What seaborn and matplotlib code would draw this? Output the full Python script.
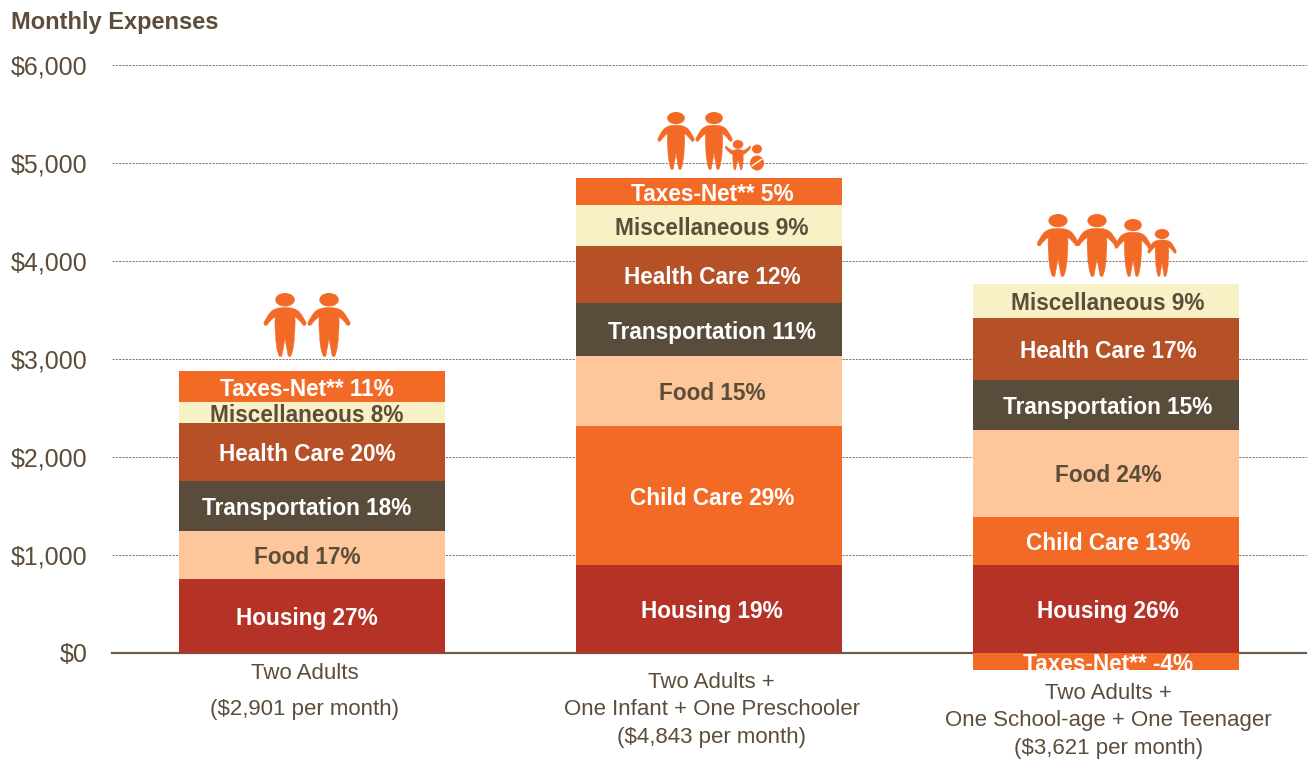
import numpy as np
import pandas as pd
import matplotlib
matplotlib.use("Agg")
import matplotlib.pyplot as plt
import seaborn as sns
from matplotlib.path import Path
from matplotlib.patches import PathPatch, Ellipse
from matplotlib.lines import Line2D
from matplotlib.transforms import Affine2D, IdentityTransform, ScaledTranslation

# ---------- data ----------
families = [
    "Two Adults\n($2,901 per month)",
    "Two Adults +\nOne Infant + One Preschooler\n($4,843 per month)",
    "Two Adults +\nOne School-age + One Teenager\n($3,621 per month)",
]
housing = [755, 898, 898]
child_care = [0, 1418, 490]
food = [490, 714, 888]
transportation = [510, 541, 510]
health_care = [592, 582, 633]
miscellaneous = [214, 418, 347]
taxes_net = [316, 276, -174]

housing_pct = [27, 19, 26]
child_care_pct = [None, 29, 13]
food_pct = [17, 15, 24]
transportation_pct = [18, 11, 15]
health_care_pct = [20, 12, 17]
miscellaneous_pct = [8, 9, 9]
taxes_net_pct = [11, 5, -4]

y_ticks = [0, 1000, 2000, 3000, 4000, 5000, 6000]

# ---------- style ----------
W, H = 1307, 761
BROWN = "#5C4D3A"
WHITE = "white"
sns.set_theme(style="white")
plt.rcParams["font.family"] = ["Liberation Sans", "DejaVu Sans"]

segments = [
    ("Housing", housing, housing_pct, "#B53326", WHITE),
    ("Child Care", child_care, child_care_pct, "#F26A26", WHITE),
    ("Food", food, food_pct, "#FDC79B", BROWN),
    ("Transportation", transportation, transportation_pct, "#5A4C3A", WHITE),
    ("Health Care", health_care, health_care_pct, "#B55027", WHITE),
    ("Miscellaneous", miscellaneous, miscellaneous_pct, "#F8F1C5", BROWN),
    ("Taxes-Net**", taxes_net, taxes_net_pct, "#F26A26", WHITE),
]

fig = plt.figure(figsize=(W / 100, H / 100), dpi=100, facecolor="white")
ax = fig.add_axes([112 / W, (H - 653) / H, (W - 112) / W, (653 - 65) / H])

# ---------- stacked bars ----------
label_shift = [-4.5 / 397, 3.5 / 397, 2.5 / 397]
bottom = np.zeros(3)
for name, vals, pcts, color, tcolor in segments:
    vals = np.array(vals, dtype=float)
    base = np.where(vals < 0, 0, bottom)
    df = pd.DataFrame({"family": families, "value": vals})
    sns.barplot(data=df, x="family", y="value", order=families, color=color,
                saturation=1, width=0.67, bottom=base, ax=ax, zorder=3,
                clip_on=False, linewidth=0, errorbar=None)
    for i, (v, b, p) in enumerate(zip(vals, base, pcts)):
        if p is None:
            continue
        ax.text(i + label_shift[i], b + v / 2, f"{name} {p}%", ha="center", va="center_baseline",
                color=tcolor, fontsize=16.3, fontweight="bold", zorder=4, clip_on=False)
    bottom = bottom + np.where(vals > 0, vals, 0)

# ---------- axes ----------
ax.set_xlim(-0.5025, 2.507)
ax.set_ylim(0, 6000)
ax.set_xlabel("")
ax.set_ylabel("")
ax.set_yticks(y_ticks, [f"${v:,}" for v in y_ticks])
ax.tick_params(axis="y", length=0, pad=17.5, labelsize=18, labelcolor=BROWN)
ax.tick_params(axis="x", length=0, pad=0, labelsize=16, labelcolor=BROWN)
ax.grid(axis="y", color="#6B5D4B", lw=0.6, ls=(0, (2.5, 1.5)), zorder=1)
ax.grid(axis="x", visible=False)
ax.set_axisbelow(True)
for s in ["top", "left", "right"]:
    ax.spines[s].set_visible(False)
ax.spines["bottom"].set_color("#6B5D4B")
ax.spines["bottom"].set_linewidth(1.6)
ax.spines["bottom"].set_zorder(2)

x_offsets = [(-7, -10), (3, -19), (3, -30)]
line_sp = [1.95, 1.4, 1.4]
for lab, (dx, dy), ls in zip(ax.get_xticklabels(), x_offsets, line_sp):
    lab.set_linespacing(ls)
    lab.set_transform(lab.get_transform() + ScaledTranslation(dx / 100, dy / 100, fig.dpi_scale_trans))

fig.text(11 / W, 1 - 22 / H, "Monthly Expenses", ha="left", va="center",
         fontsize=17, fontweight="bold", color=BROWN)

# ---------- family icons ----------
ORANGE = "#F26A26"
C3, L2 = Path.CURVE3, Path.LINETO


def _mirror_codes(codes):
    # walking the same outline backwards: the curve pairs stay pairs
    return list(reversed(codes[1:]))


def body_path():
    half = [(0, 39), (24, 38), (36, 50), (46, 62), (54, 80), (52, 86), (46, 86),
            (36, 70), (25, 64), (27, 88), (24, 110), (24, 145), (15, 168), (12, 171),
            (8, 168), (3, 140), (0, 122)]
    codes = [Path.MOVETO, C3, C3, C3, C3, L2, L2, C3, C3, C3, C3, C3, C3, C3, C3, C3, C3]
    mirror = [(-x, y) for x, y in half[::-1]][1:]
    return Path(np.array(half + mirror, float), codes + _mirror_codes(codes))


def kid_path():
    half = [(0, 32), (12, 32), (20, 36), (34, 34), (50, 20), (53, 24), (52, 28),
            (38, 44), (21, 50), (23, 66), (20, 80), (19, 95), (15, 102), (11, 102),
            (5, 80), (0, 68)]
    codes = [Path.MOVETO, C3, C3, C3, C3, L2, L2, C3, C3, C3, C3, C3, C3, L2, C3, C3]
    mirror = [(-x, y) for x, y in half[::-1]][1:]
    return Path(np.array(half + mirror, float), codes + _mirror_codes(codes))


def place(cx, top, height, xscale=1.0, kid=False):
    """Draw a pictogram with its head top at pixel (cx, top)."""
    base = 102 if kid else 168
    s = height / base
    tr = Affine2D().scale(s * xscale, -s).translate(cx, H - top)
    fig.add_artist(PathPatch(kid_path() if kid else body_path(), fc=ORANGE, ec=ORANGE, lw=0.3,
                             transform=tr + IdentityTransform(), zorder=5))
    hw, hh = (36, 30) if kid else (52, 36)
    hy = 15 if kid else 18
    fig.add_artist(Ellipse((cx, H - top - hy * s), hw * s, hh * s, fc=ORANGE, ec="none",
                           transform=IdentityTransform(), zorder=5))


def baby(cx, cy):
    fig.add_artist(Ellipse((cx, H - (cy - 14)), 10, 9, fc=ORANGE, ec="none",
                           transform=IdentityTransform(), zorder=5))
    fig.add_artist(Ellipse((cx, H - cy), 14, 15, fc=ORANGE, ec="none",
                           transform=IdentityTransform(), zorder=5))
    fig.add_artist(Line2D([cx - 5, cx + 5], [H - cy - 3, H - cy + 4], color="white", lw=1.0,
                          transform=IdentityTransform(), zorder=6))


for cx, top, h, xs in [(285, 293, 63, 1.05), (329, 293, 63, 1.05),
                       (676, 112, 57, 1.0), (714, 112, 57, 1.0),
                       (1058, 214, 62, 1.05), (1097, 214, 62, 1.05),
                       (1133, 219, 57, 1.0), (1162, 229, 47, 0.95)]:
    place(cx, top, h, xs)
place(738, 140, 30, 0.82, kid=True)
baby(757, 163)

fig.savefig("out.png", dpi=100, facecolor="white")
